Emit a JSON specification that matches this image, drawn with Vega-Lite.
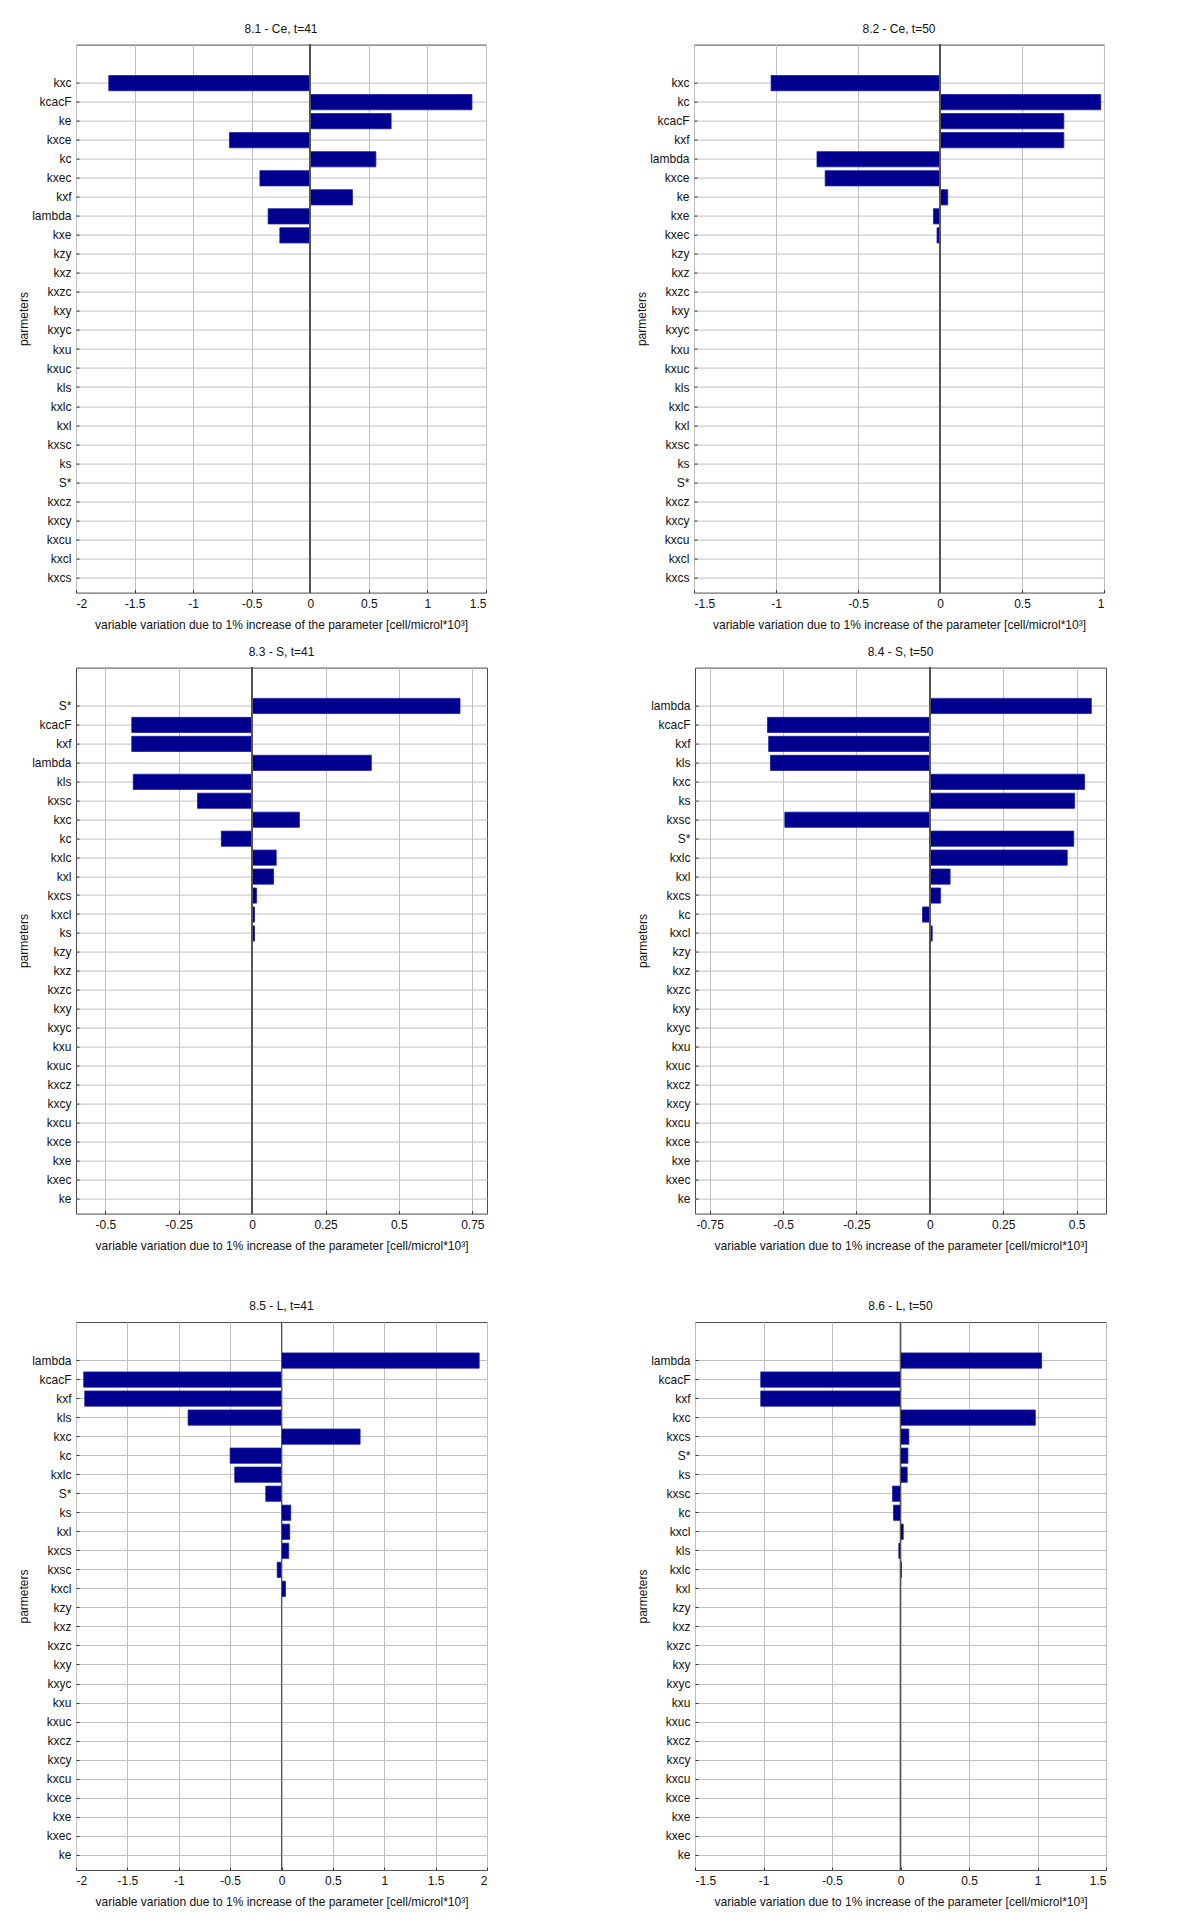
{
  "$schema": "https://vega.github.io/schema/vega-lite/v6.json",
  "background": "white",
  "padding": {"left": 16, "top": 22.6, "right": 0, "bottom": 0},
  "config": {
    "font": "Liberation Sans",
    "view": {"stroke": "#4a4a4a", "strokeWidth": 1},
    "axis": {"domain": false, "grid": true, "gridColor": "#c0c0c0", "gridOpacity": 1, "gridWidth": 1, "tickColor": "#333333", "tickSize": -3, "labelFont": "Liberation Sans", "labelFontSize": 12, "labelColor": "#111111", "titleFont": "Liberation Sans", "titleFontSize": 12, "titleFontWeight": "normal", "titleColor": "#111111"},
    "axisY": {"labelPadding": 8, "titlePadding": 1.5},
    "axisX": {"labelPadding": 9, "titlePadding": 10},
    "title": {"fontSize": 12, "fontWeight": "normal", "color": "#111111", "offset": 8, "font": "Liberation Sans"}
  },
  "data": {"values": [
    {"panel": "8.1", "param": "kxc", "value": -1.72},
    {"panel": "8.1", "param": "kcacF", "value": 1.38},
    {"panel": "8.1", "param": "ke", "value": 0.69},
    {"panel": "8.1", "param": "kxce", "value": -0.69},
    {"panel": "8.1", "param": "kc", "value": 0.56},
    {"panel": "8.1", "param": "kxec", "value": -0.43},
    {"panel": "8.1", "param": "kxf", "value": 0.36},
    {"panel": "8.1", "param": "lambda", "value": -0.36},
    {"panel": "8.1", "param": "kxe", "value": -0.26},
    {"panel": "8.1", "param": "kzy", "value": 0},
    {"panel": "8.1", "param": "kxz", "value": 0},
    {"panel": "8.1", "param": "kxzc", "value": 0},
    {"panel": "8.1", "param": "kxy", "value": 0},
    {"panel": "8.1", "param": "kxyc", "value": 0},
    {"panel": "8.1", "param": "kxu", "value": 0},
    {"panel": "8.1", "param": "kxuc", "value": 0},
    {"panel": "8.1", "param": "kls", "value": 0},
    {"panel": "8.1", "param": "kxlc", "value": 0},
    {"panel": "8.1", "param": "kxl", "value": 0},
    {"panel": "8.1", "param": "kxsc", "value": 0},
    {"panel": "8.1", "param": "ks", "value": 0},
    {"panel": "8.1", "param": "S*", "value": 0},
    {"panel": "8.1", "param": "kxcz", "value": 0},
    {"panel": "8.1", "param": "kxcy", "value": 0},
    {"panel": "8.1", "param": "kxcu", "value": 0},
    {"panel": "8.1", "param": "kxcl", "value": 0},
    {"panel": "8.1", "param": "kxcs", "value": 0},

    {"panel": "8.2", "param": "kxc", "value": -1.03},
    {"panel": "8.2", "param": "kc", "value": 0.98},
    {"panel": "8.2", "param": "kcacF", "value": 0.755},
    {"panel": "8.2", "param": "kxf", "value": 0.755},
    {"panel": "8.2", "param": "lambda", "value": -0.75},
    {"panel": "8.2", "param": "kxce", "value": -0.70},
    {"panel": "8.2", "param": "ke", "value": 0.047},
    {"panel": "8.2", "param": "kxe", "value": -0.04},
    {"panel": "8.2", "param": "kxec", "value": -0.018},
    {"panel": "8.2", "param": "kzy", "value": 0},
    {"panel": "8.2", "param": "kxz", "value": 0},
    {"panel": "8.2", "param": "kxzc", "value": 0},
    {"panel": "8.2", "param": "kxy", "value": 0},
    {"panel": "8.2", "param": "kxyc", "value": 0},
    {"panel": "8.2", "param": "kxu", "value": 0},
    {"panel": "8.2", "param": "kxuc", "value": 0},
    {"panel": "8.2", "param": "kls", "value": 0},
    {"panel": "8.2", "param": "kxlc", "value": 0},
    {"panel": "8.2", "param": "kxl", "value": 0},
    {"panel": "8.2", "param": "kxsc", "value": 0},
    {"panel": "8.2", "param": "ks", "value": 0},
    {"panel": "8.2", "param": "S*", "value": 0},
    {"panel": "8.2", "param": "kxcz", "value": 0},
    {"panel": "8.2", "param": "kxcy", "value": 0},
    {"panel": "8.2", "param": "kxcu", "value": 0},
    {"panel": "8.2", "param": "kxcl", "value": 0},
    {"panel": "8.2", "param": "kxcs", "value": 0},

    {"panel": "8.3", "param": "S*", "value": 0.708},
    {"panel": "8.3", "param": "kcacF", "value": -0.41},
    {"panel": "8.3", "param": "kxf", "value": -0.41},
    {"panel": "8.3", "param": "lambda", "value": 0.406},
    {"panel": "8.3", "param": "kls", "value": -0.405},
    {"panel": "8.3", "param": "kxsc", "value": -0.186},
    {"panel": "8.3", "param": "kxc", "value": 0.161},
    {"panel": "8.3", "param": "kc", "value": -0.105},
    {"panel": "8.3", "param": "kxlc", "value": 0.082},
    {"panel": "8.3", "param": "kxl", "value": 0.073},
    {"panel": "8.3", "param": "kxcs", "value": 0.015},
    {"panel": "8.3", "param": "kxcl", "value": 0.008},
    {"panel": "8.3", "param": "ks", "value": 0.008},
    {"panel": "8.3", "param": "kzy", "value": 0},
    {"panel": "8.3", "param": "kxz", "value": 0},
    {"panel": "8.3", "param": "kxzc", "value": 0},
    {"panel": "8.3", "param": "kxy", "value": 0},
    {"panel": "8.3", "param": "kxyc", "value": 0},
    {"panel": "8.3", "param": "kxu", "value": 0},
    {"panel": "8.3", "param": "kxuc", "value": 0},
    {"panel": "8.3", "param": "kxcz", "value": 0},
    {"panel": "8.3", "param": "kxcy", "value": 0},
    {"panel": "8.3", "param": "kxcu", "value": 0},
    {"panel": "8.3", "param": "kxce", "value": 0},
    {"panel": "8.3", "param": "kxe", "value": 0},
    {"panel": "8.3", "param": "kxec", "value": 0},
    {"panel": "8.3", "param": "ke", "value": 0},

    {"panel": "8.4", "param": "lambda", "value": 0.55},
    {"panel": "8.4", "param": "kcacF", "value": -0.553},
    {"panel": "8.4", "param": "kxf", "value": -0.549},
    {"panel": "8.4", "param": "kls", "value": -0.543},
    {"panel": "8.4", "param": "kxc", "value": 0.527},
    {"panel": "8.4", "param": "ks", "value": 0.493},
    {"panel": "8.4", "param": "kxsc", "value": -0.494},
    {"panel": "8.4", "param": "S*", "value": 0.49},
    {"panel": "8.4", "param": "kxlc", "value": 0.468},
    {"panel": "8.4", "param": "kxl", "value": 0.069},
    {"panel": "8.4", "param": "kxcs", "value": 0.036},
    {"panel": "8.4", "param": "kc", "value": -0.025},
    {"panel": "8.4", "param": "kxcl", "value": 0.008},
    {"panel": "8.4", "param": "kzy", "value": 0},
    {"panel": "8.4", "param": "kxz", "value": 0},
    {"panel": "8.4", "param": "kxzc", "value": 0},
    {"panel": "8.4", "param": "kxy", "value": 0},
    {"panel": "8.4", "param": "kxyc", "value": 0},
    {"panel": "8.4", "param": "kxu", "value": 0},
    {"panel": "8.4", "param": "kxuc", "value": 0},
    {"panel": "8.4", "param": "kxcz", "value": 0},
    {"panel": "8.4", "param": "kxcy", "value": 0},
    {"panel": "8.4", "param": "kxcu", "value": 0},
    {"panel": "8.4", "param": "kxce", "value": 0},
    {"panel": "8.4", "param": "kxe", "value": 0},
    {"panel": "8.4", "param": "kxec", "value": 0},
    {"panel": "8.4", "param": "ke", "value": 0},

    {"panel": "8.5", "param": "lambda", "value": 1.924},
    {"panel": "8.5", "param": "kcacF", "value": -1.925},
    {"panel": "8.5", "param": "kxf", "value": -1.915},
    {"panel": "8.5", "param": "kls", "value": -0.909},
    {"panel": "8.5", "param": "kxc", "value": 0.765},
    {"panel": "8.5", "param": "kc", "value": -0.50},
    {"panel": "8.5", "param": "kxlc", "value": -0.455},
    {"panel": "8.5", "param": "S*", "value": -0.153},
    {"panel": "8.5", "param": "ks", "value": 0.09},
    {"panel": "8.5", "param": "kxl", "value": 0.08},
    {"panel": "8.5", "param": "kxcs", "value": 0.07},
    {"panel": "8.5", "param": "kxsc", "value": -0.042},
    {"panel": "8.5", "param": "kxcl", "value": 0.039},
    {"panel": "8.5", "param": "kzy", "value": 0},
    {"panel": "8.5", "param": "kxz", "value": 0},
    {"panel": "8.5", "param": "kxzc", "value": 0},
    {"panel": "8.5", "param": "kxy", "value": 0},
    {"panel": "8.5", "param": "kxyc", "value": 0},
    {"panel": "8.5", "param": "kxu", "value": 0},
    {"panel": "8.5", "param": "kxuc", "value": 0},
    {"panel": "8.5", "param": "kxcz", "value": 0},
    {"panel": "8.5", "param": "kxcy", "value": 0},
    {"panel": "8.5", "param": "kxcu", "value": 0},
    {"panel": "8.5", "param": "kxce", "value": 0},
    {"panel": "8.5", "param": "kxe", "value": 0},
    {"panel": "8.5", "param": "kxec", "value": 0},
    {"panel": "8.5", "param": "ke", "value": 0},

    {"panel": "8.6", "param": "lambda", "value": 1.03},
    {"panel": "8.6", "param": "kcacF", "value": -1.02},
    {"panel": "8.6", "param": "kxf", "value": -1.02},
    {"panel": "8.6", "param": "kxc", "value": 0.984},
    {"panel": "8.6", "param": "kxcs", "value": 0.061},
    {"panel": "8.6", "param": "S*", "value": 0.054},
    {"panel": "8.6", "param": "ks", "value": 0.049},
    {"panel": "8.6", "param": "kxsc", "value": -0.058},
    {"panel": "8.6", "param": "kc", "value": -0.051},
    {"panel": "8.6", "param": "kxcl", "value": 0.02},
    {"panel": "8.6", "param": "kls", "value": -0.012},
    {"panel": "8.6", "param": "kxlc", "value": 0.007},
    {"panel": "8.6", "param": "kxl", "value": 0},
    {"panel": "8.6", "param": "kzy", "value": 0},
    {"panel": "8.6", "param": "kxz", "value": 0},
    {"panel": "8.6", "param": "kxzc", "value": 0},
    {"panel": "8.6", "param": "kxy", "value": 0},
    {"panel": "8.6", "param": "kxyc", "value": 0},
    {"panel": "8.6", "param": "kxu", "value": 0},
    {"panel": "8.6", "param": "kxuc", "value": 0},
    {"panel": "8.6", "param": "kxcz", "value": 0},
    {"panel": "8.6", "param": "kxcy", "value": 0},
    {"panel": "8.6", "param": "kxcu", "value": 0},
    {"panel": "8.6", "param": "kxce", "value": 0},
    {"panel": "8.6", "param": "kxe", "value": 0},
    {"panel": "8.6", "param": "kxec", "value": 0},
    {"panel": "8.6", "param": "ke", "value": 0}
  ]},
  "vconcat": [
    {
      "vconcat": [
        {
          "hconcat": [
            {
              "title": "8.1 - Ce, t=41",
              "width": 410, "height": 548,
              "transform": [{"filter": "datum.panel == '8.1'"}],
              "encoding": {
                "y": {"field": "param", "type": "nominal", "sort": null, "scale": {"paddingInner": 0.2, "paddingOuter": 1.6, "align": 0.8125}, "axis": {"title": "parmeters", "bandPosition": 0.5}},
                "x": {"field": "value", "type": "quantitative", "scale": {"domain": [-2, 1.5], "nice": false}, "axis": {"values": [-2, -1.5, -1, -0.5, 0, 0.5, 1, 1.5], "labelExpr": "'' + datum.value", "title": "variable variation due to 1% increase of the parameter [cell/microl*10³]"}}
              },
              "layer": [
                {"mark": {"type": "bar", "color": "#00008f", "stroke": "#1c1ca6", "strokeWidth": 0.8}},
                {"mark": {"type": "rule", "color": "#555555", "strokeWidth": 1}, "encoding": {"x": {"datum": 0}, "y": null}}
              ]
            },
            {
              "title": "8.2 - Ce, t=50",
              "width": 410, "height": 548,
              "transform": [{"filter": "datum.panel == '8.2'"}],
              "encoding": {
                "y": {"field": "param", "type": "nominal", "sort": null, "scale": {"paddingInner": 0.2, "paddingOuter": 1.6, "align": 0.8125}, "axis": {"title": "parmeters", "bandPosition": 0.5}},
                "x": {"field": "value", "type": "quantitative", "scale": {"domain": [-1.5, 1], "nice": false}, "axis": {"values": [-1.5, -1, -0.5, 0, 0.5, 1], "labelExpr": "'' + datum.value", "title": "variable variation due to 1% increase of the parameter [cell/microl*10³]"}}
              },
              "layer": [
                {"mark": {"type": "bar", "color": "#00008f", "stroke": "#1c1ca6", "strokeWidth": 0.8}},
                {"mark": {"type": "rule", "color": "#555555", "strokeWidth": 1}, "encoding": {"x": {"datum": 0}, "y": null}}
              ]
            }
          ],
          "spacing": 147
        },
        {
          "hconcat": [
            {
              "title": "8.3 - S, t=41",
              "width": 411, "height": 546,
              "transform": [{"filter": "datum.panel == '8.3'"}],
              "encoding": {
                "y": {"field": "param", "type": "nominal", "sort": null, "scale": {"paddingInner": 0.2, "paddingOuter": 1.6, "align": 0.8125}, "axis": {"title": "parmeters", "bandPosition": 0.5}},
                "x": {"field": "value", "type": "quantitative", "scale": {"domain": [-0.6, 0.8], "nice": false}, "axis": {"values": [-0.5, -0.25, 0, 0.25, 0.5, 0.75], "labelExpr": "'' + datum.value", "title": "variable variation due to 1% increase of the parameter [cell/microl*10³]"}}
              },
              "layer": [
                {"mark": {"type": "bar", "color": "#00008f", "stroke": "#1c1ca6", "strokeWidth": 0.8}},
                {"mark": {"type": "rule", "color": "#555555", "strokeWidth": 1}, "encoding": {"x": {"datum": 0}, "y": null}}
              ]
            },
            {
              "title": "8.4 - S, t=50",
              "width": 411, "height": 546,
              "transform": [{"filter": "datum.panel == '8.4'"}],
              "encoding": {
                "y": {"field": "param", "type": "nominal", "sort": null, "scale": {"paddingInner": 0.2, "paddingOuter": 1.6, "align": 0.8125}, "axis": {"title": "parmeters", "bandPosition": 0.5}},
                "x": {"field": "value", "type": "quantitative", "scale": {"domain": [-0.8, 0.6], "nice": false}, "axis": {"values": [-0.75, -0.5, -0.25, 0, 0.25, 0.5], "labelExpr": "'' + datum.value", "title": "variable variation due to 1% increase of the parameter [cell/microl*10³]"}}
              },
              "layer": [
                {"mark": {"type": "bar", "color": "#00008f", "stroke": "#1c1ca6", "strokeWidth": 0.8}},
                {"mark": {"type": "rule", "color": "#555555", "strokeWidth": 1}, "encoding": {"x": {"datum": 0}, "y": null}}
              ]
            }
          ],
          "spacing": 147
        }
      ],
      "spacing": 14
    },
    {
      "hconcat": [
        {
          "title": "8.5 - L, t=41",
          "width": 411, "height": 548,
          "transform": [{"filter": "datum.panel == '8.5'"}],
          "encoding": {
            "y": {"field": "param", "type": "nominal", "sort": null, "scale": {"paddingInner": 0.2, "paddingOuter": 1.6, "align": 0.8125}, "axis": {"title": "parmeters", "bandPosition": 0.5}},
            "x": {"field": "value", "type": "quantitative", "scale": {"domain": [-2, 2], "nice": false}, "axis": {"values": [-2, -1.5, -1, -0.5, 0, 0.5, 1, 1.5, 2], "labelExpr": "'' + datum.value", "title": "variable variation due to 1% increase of the parameter [cell/microl*10³]"}}
          },
          "layer": [
            {"mark": {"type": "bar", "color": "#00008f", "stroke": "#1c1ca6", "strokeWidth": 0.8}},
            {"mark": {"type": "rule", "color": "#555555", "strokeWidth": 1}, "encoding": {"x": {"datum": 0}, "y": null}}
          ]
        },
        {
          "title": "8.6 - L, t=50",
          "width": 411, "height": 548,
          "transform": [{"filter": "datum.panel == '8.6'"}],
          "encoding": {
            "y": {"field": "param", "type": "nominal", "sort": null, "scale": {"paddingInner": 0.2, "paddingOuter": 1.6, "align": 0.8125}, "axis": {"title": "parmeters", "bandPosition": 0.5}},
            "x": {"field": "value", "type": "quantitative", "scale": {"domain": [-1.5, 1.5], "nice": false}, "axis": {"values": [-1.5, -1, -0.5, 0, 0.5, 1, 1.5], "labelExpr": "'' + datum.value", "title": "variable variation due to 1% increase of the parameter [cell/microl*10³]"}}
          },
          "layer": [
            {"mark": {"type": "bar", "color": "#00008f", "stroke": "#1c1ca6", "strokeWidth": 0.8}},
            {"mark": {"type": "rule", "color": "#555555", "strokeWidth": 1}, "encoding": {"x": {"datum": 0}, "y": null}}
          ]
        }
      ],
      "spacing": 147
    }
  ],
  "spacing": 47.4
}
